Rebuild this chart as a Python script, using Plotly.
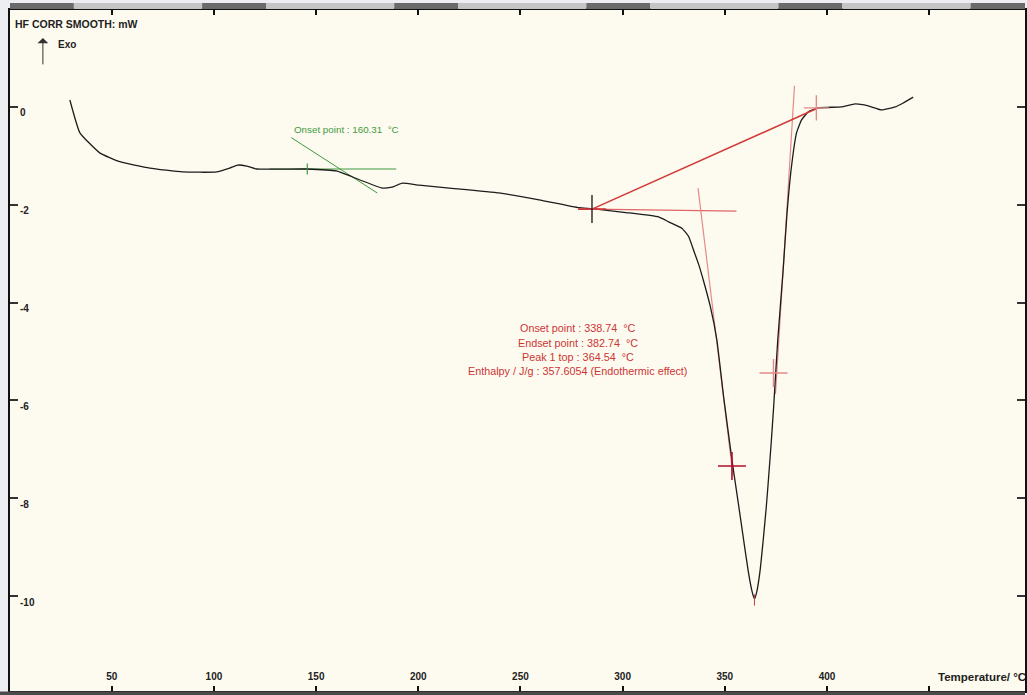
import plotly.graph_objects as go

# ---- DSC curve (Temperature / °C vs HF CORR SMOOTH / mW) ----
temp = [29.5, 34.4, 44.1, 53.9, 68.6, 84.7, 101.3, 107.7, 111.6, 116.0, 120.8, 145.2,
        159.9, 171.2, 182.4, 187.3, 192.2, 200.4, 215.1, 239.5, 259.1, 278.6, 285.0,
        301.6, 317.6, 322.5, 329.0, 332.3, 334.8, 337.2, 339.6, 342.9, 346.1, 349.4,
        353.6, 356.6, 359.2,
        361.5, 363.3, 364.5, 365.6, 367.2, 368.8, 370.3, 371.6, 372.8, 373.9, 374.9,
        375.9, 378.6, 380.4, 382.6, 385.1, 387.5, 390.9, 395.8, 407.0, 413.9, 420.2, 426.6,
        433.4, 437.3, 442.2]
hf = [0.14, -0.53, -0.94, -1.12, -1.25, -1.33, -1.33, -1.25, -1.19, -1.21, -1.27, -1.27,
      -1.31, -1.49, -1.66, -1.64, -1.56, -1.60, -1.66, -1.76, -1.90, -2.06, -2.08,
      -2.16, -2.25, -2.35, -2.48, -2.65, -2.94, -3.22, -3.56, -4.08, -4.76, -5.92,
      -7.25, -8.10, -8.85,
      -9.50, -9.90, -10.06, -9.92, -9.50, -8.85, -8.18, -7.48, -6.81, -6.13, -5.44,
      -4.77, -3.30, -2.20, -1.23, -0.53, -0.27, -0.10, -0.02, 0.00, 0.06, 0.02, -0.06,
      0.00, 0.08, 0.20]

# ---- construction lines ----
green_base_x = [127.2, 189.2]
green_base_y = [-1.27, -1.27]
green_tan_x = [137.9, 179.9]
green_tan_y = [-0.63, -1.76]
green_tick = (145.7, -1.27)

red_base_x = [285.0, 395.8]
red_base_y = [-2.09, -0.02]
red_hor_x = [285.0, 355.7]
red_hor_y = [-2.09, -2.13]
red_ltan_x = [336.9, 354.0]
red_ltan_y = [-1.66, -7.53]
red_rtan_x = [384.1, 374.8]
red_rtan_y = [0.43, -5.87]
onset_cross = (285.0, -2.09)
left_cross = (353.5, -7.34)
right_cross = (373.8, -5.44)
end_cross = (394.8, -0.02)
peak_tick = (364.5, -10.08)

green_label = "Onset point : 160.31  °C"
green_label_pos = (164.8, -0.47)
red_labels = ["Onset point : 338.74  °C",
              "Endset point : 382.74  °C",
              "Peak 1 top : 364.54  °C",
              "Enthalpy / J/g : 357.6054 (Endothermic effect)"]
red_label_x = 278.1
red_label_y = [-4.52, -4.83, -5.11, -5.40]

x_tickvals = [50, 100, 150, 200, 250, 300, 350, 400, 450]
x_ticktext = ["50", "100", "150", "200", "250", "300", "350", "400", ""]
y_tickvals = [0, -2, -4, -6, -8, -10]
y_ticktext = ["0", "-2", "-4", "-6", "-8", "-10"]

X_RANGE = [0.2, 496.9]
Y_RANGE = [-11.94, 1.98]

GREEN = "#3f9a3f"
RED = "#d23a3a"
RED_LIGHT = "#e38a8a"
RED_DARK = "#b3122a"
FONT = "Liberation Sans"

fig = go.Figure()

def seg(x, y, color, width):
    fig.add_trace(go.Scatter(x=x, y=y, mode="lines", line=dict(color=color, width=width),
                             hoverinfo="skip", showlegend=False))

def mark(pt, symbol, color, size, width=1.3):
    fig.add_trace(go.Scatter(x=[pt[0]], y=[pt[1]], mode="markers",
                             marker=dict(symbol=symbol, size=size, color=color,
                                         line=dict(color=color, width=width)),
                             hoverinfo="skip", showlegend=False))

# green construction
seg(green_base_x, green_base_y, GREEN, 1.1)
seg(green_tan_x, green_tan_y, GREEN, 1.0)

# red construction
seg(red_hor_x, red_hor_y, "#e06666", 1.3)
seg(red_ltan_x, red_ltan_y, RED_LIGHT, 1.2)
seg(red_rtan_x, red_rtan_y, RED_LIGHT, 1.2)

# curve
fig.add_trace(go.Scatter(x=temp, y=hf, mode="lines",
                         line=dict(color="#1c1c1c", width=1.3, shape="spline", smoothing=0.4),
                         hoverinfo="skip", showlegend=False))

seg(red_base_x, red_base_y, RED, 1.6)

mark(green_tick, "line-ns", GREEN, 8, 1.2)
mark(onset_cross, "line-ew", RED, 20, 1.8)
mark(onset_cross, "line-ns", "#222222", 20, 1.4)
mark(left_cross, "cross-thin", RED_DARK, 20, 1.6)
mark(right_cross, "cross-thin", RED_LIGHT, 20, 1.4)
mark(end_cross, "cross-thin", RED_LIGHT, 18, 1.4)
mark(peak_tick, "line-ns", "#c04040", 8, 1.0)

annotations = []
annotations.append(dict(x=green_label_pos[0], y=green_label_pos[1], text=green_label,
                        showarrow=False, font=dict(family=FONT, size=9.8, color=GREEN)))
for t, yy in zip(red_labels, red_label_y):
    annotations.append(dict(x=red_label_x, y=yy, text=t, showarrow=False,
                            font=dict(family=FONT, size=10.8, color="#cc3535")))
# axis title & Exo arrow
annotations.append(dict(x=1.5, y=1.70, text="HF CORR SMOOTH: mW", showarrow=False,
                        xanchor="left", font=dict(family=FONT, size=10.5, color="#222222", weight="bold")))
annotations.append(dict(x=16.3, y=1.41, ax=0, ay=28, text="", showarrow=True,
                        arrowhead=1, arrowsize=1.8, arrowwidth=1, arrowcolor="#333333"))
annotations.append(dict(x=28.0, y=1.27, text="Exo", showarrow=False,
                        font=dict(family=FONT, size=10, color="#222222", weight="bold")))
annotations.append(dict(x=453.4, y=-11.65, text="Temperature/ °C", showarrow=False,
                        xanchor="left", font=dict(family=FONT, size=11.5, color="#222222", weight="bold")))

# window chrome (decoration) above the plot and below
shapes = []
W, H, L, T, B = 1027, 695, 10, 10, 4
pw, ph = W - L, H - T - B
def px2x(p):
    return (p - L) / pw
def py2y(p):
    return (H - B - p) / ph
start = 10
period = 192.5
while start < W:
    d_end = min(start + 64, W)
    shapes.append(dict(type="rect", xref="paper", yref="paper", x0=px2x(start), x1=px2x(d_end),
                       y0=py2y(9), y1=py2y(3), fillcolor="#6a6a6a", line=dict(width=0), layer="above"))
    l_end = min(start + period, W)
    if d_end < W:
        shapes.append(dict(type="rect", xref="paper", yref="paper", x0=px2x(d_end), x1=px2x(l_end),
                           y0=py2y(9), y1=py2y(3), fillcolor="#c4c4c4", line=dict(width=0), layer="above"))
    start += period
shapes.append(dict(type="rect", xref="paper", yref="paper", x0=px2x(0), x1=1.0,
                   y0=py2y(695), y1=py2y(691.5), fillcolor="#4a4a4a", line=dict(width=0)))

fig.update_layout(
    width=W, height=H,
    margin=dict(l=L, r=0, t=T, b=B, pad=0),
    paper_bgcolor="#eceef2",
    plot_bgcolor="#fdfbef",
    showlegend=False,
    annotations=annotations,
    shapes=shapes,
    xaxis=dict(range=X_RANGE, tickvals=x_tickvals, ticktext=x_ticktext,
               ticks="inside", ticklen=5, tickwidth=1.5, tickcolor="#111111",
               ticklabelposition="inside", ticklabelstandoff=3,
               tickfont=dict(family=FONT, size=10, color="#222222", weight="bold"),
               showline=True, linecolor="#111111", linewidth=2, mirror="ticks",
               showgrid=False, zeroline=False, fixedrange=True),
    yaxis=dict(range=Y_RANGE, tickvals=y_tickvals, ticktext=y_ticktext,
               ticks="inside", ticklen=8, tickwidth=1.5, tickcolor="#333333",
               ticklabelposition="inside", ticklabelshift=6, ticklabelstandoff=1,
               tickfont=dict(family=FONT, size=10, color="#222222", weight="bold"),
               showline=True, linecolor="#111111", linewidth=2, mirror="ticks",
               showgrid=False, zeroline=False, fixedrange=True),
)

fig.write_html("out.html")
